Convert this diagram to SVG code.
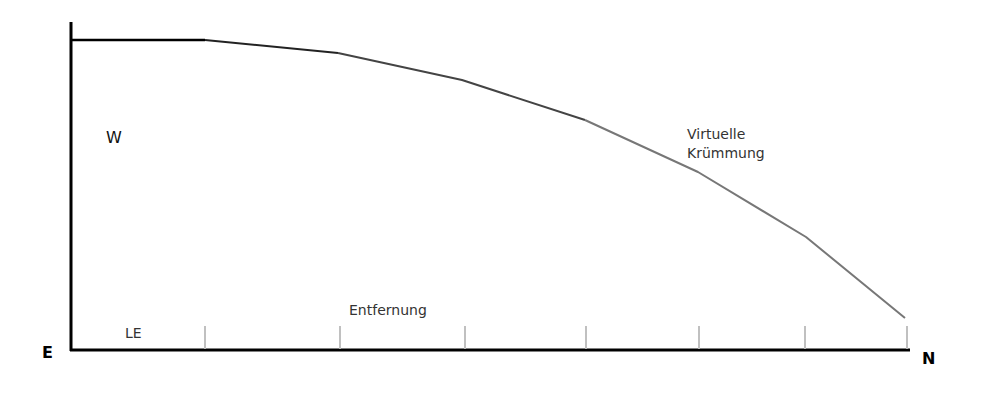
<svg xmlns="http://www.w3.org/2000/svg" width="1000" height="400" viewBox="0 0 1000 400">
<style>
.lbl{font-family:"DejaVu Sans",sans-serif;font-size:14px;fill:#333}
.bold{font-family:"DejaVu Sans",sans-serif;font-size:16px;font-weight:bold;fill:#000}
.tick{stroke:#c0c0c0;stroke-width:2}
</style>
<rect width="1000" height="400" fill="#fff"/>
<g id="axes" fill="none">
<line x1="71" y1="22" x2="71" y2="351" stroke="#000" stroke-width="3"/>
<line x1="70" y1="350" x2="910" y2="350" stroke="#000" stroke-width="3"/>
</g>
<g id="ticks">
<line class="tick" x1="205" y1="326" x2="205" y2="349"/>
<line class="tick" x1="340" y1="326" x2="340" y2="349"/>
<line class="tick" x1="465" y1="326" x2="465" y2="349"/>
<line class="tick" x1="586" y1="326" x2="586" y2="349"/>
<line class="tick" x1="699" y1="326" x2="699" y2="349"/>
<line class="tick" x1="805" y1="326" x2="805" y2="349"/>
<line class="tick" x1="907" y1="326" x2="907" y2="349"/>
</g>
<g id="curve" fill="none" stroke-linejoin="round">
<line x1="72" y1="40" x2="205" y2="40" stroke="#000" stroke-width="2.5"/>
<polyline points="205,40 338,53" stroke="#222" stroke-width="2"/>
<polyline points="338,53 462,80 585,120" stroke="#444" stroke-width="2"/>
<polyline points="585,120 698,172 806,237 905,318" stroke="#777" stroke-width="2"/>
</g>
<g id="labels">
<text x="106" y="143" font-family="DejaVu Sans,sans-serif" font-size="16" fill="#111">W</text>
<text class="lbl" x="687" y="139">Virtuelle</text>
<text class="lbl" x="687" y="158">Krümmung</text>
<text class="lbl" x="349" y="315">Entfernung</text>
<text class="lbl" x="125" y="338" font-size="13">LE</text>
<text class="bold" x="42" y="358">E</text>
<text class="bold" x="922" y="364">N</text>
</g>
</svg>
